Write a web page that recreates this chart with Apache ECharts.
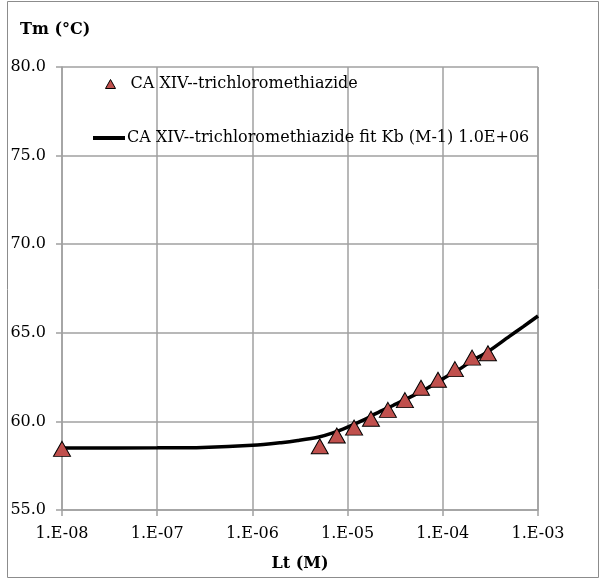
<!DOCTYPE html>
<html>
<head>
<meta charset="utf-8">
<script src="https://cdn.jsdelivr.net/npm/echarts@6/dist/echarts.min.js"></script>
<style>
html,body{margin:0;padding:0;background:#fff;}
#chart{width:600px;height:579px;}
</style>
</head>
<body>
<div id="chart"></div>
<script>
// Data
const seriesNames = ['CA XIV--trichloromethiazide', 'CA XIV--trichloromethiazide fit Kb (M-1) 1.0E+06'];
const obsLt = [1.0e-8, 5.1e-6, 7.7e-6, 1.17e-5, 1.76e-5, 2.65e-5, 4.0e-5, 5.9e-5, 8.9e-5, 1.34e-4, 2.03e-4, 2.98e-4];
const obsTm = [58.45, 58.6, 59.2, 59.65, 60.15, 60.65, 61.2, 61.9, 62.35, 62.95, 63.6, 63.85];
const fitLt = [1e-8, 1e-7, 3e-7, 1e-6, 2e-6, 3e-6, 5e-6, 7e-6, 1e-5, 1.5e-5, 2e-5, 3e-5, 5e-5, 7e-5, 1e-4, 1.5e-4, 2e-4, 3e-4, 5e-4, 7e-4, 1e-3];
const fitTm = [58.50, 58.51, 58.53, 58.65, 58.80, 58.92, 59.12, 59.35, 59.68, 60.10, 60.45, 60.90, 61.48, 61.90, 62.40, 62.95, 63.40, 63.95, 64.80, 65.35, 65.95];
const xTicks = ['1.E-08', '1.E-07', '1.E-06', '1.E-05', '1.E-04', '1.E-03'];
const yTicks = ['55.0', '60.0', '65.0', '70.0', '75.0', '80.0'];

const FONT = 'DejaVu Serif';
const FS = 16;
const chart = echarts.init(document.getElementById('chart'), null, {renderer: 'canvas'});
const gridColor = '#a0a0a0';

chart.setOption({
  animation: false,
  backgroundColor: '#ffffff',
  textStyle: {fontFamily: FONT},
  graphic: [{
    type: 'rect', shape: {x: 7.5, y: 1.5, width: 591, height: 576},
    style: {fill: 'none', stroke: '#8c8c8c', lineWidth: 1}, silent: true, z: -1
  }],
  title: [{
    text: 'Tm (°C)', left: 15, top: 17,
    textStyle: {fontFamily: FONT, fontSize: FS, fontWeight: 'bold', color: '#000'}
  }],
  grid: {left: 62, right: 62, top: 67, bottom: 69, containLabel: false},
  legend: [{
    data: [{name: seriesNames[0], icon: 'triangle'}],
    left: 100, top: 71, itemWidth: 10, itemHeight: 9, itemGap: 0,
    textStyle: {fontFamily: FONT, fontSize: FS, color: '#000', padding: [0, 0, 0, 10]},
    itemStyle: {color: '#C0504D', borderColor: '#000', borderWidth: 1}
  }, {
    data: [{name: seriesNames[1], icon: 'rect'}],
    left: 88, top: 125, itemWidth: 32, itemHeight: 4, itemGap: 0,
    textStyle: {fontFamily: FONT, fontSize: FS, color: '#000', padding: [0, 0, 0, -3]},
    itemStyle: {color: '#000', borderWidth: 0}
  }],
  xAxis: {
    type: 'log', logBase: 10, min: 1e-8, max: 1e-3,
    name: 'Lt (M)', nameLocation: 'middle', nameGap: 46,
    nameTextStyle: {fontFamily: FONT, fontSize: FS, fontWeight: 'bold', color: '#000'},
    axisLine: {lineStyle: {color: gridColor, width: 1.5}},
    axisTick: {show: true, length: 6, lineStyle: {color: gridColor, width: 1.5}},
    splitLine: {show: true, lineStyle: {color: gridColor, width: 1.5}},
    minorTick: {show: false},
    axisLabel: {
      fontFamily: FONT, fontSize: FS, color: '#000', margin: 16,
      formatter: function (v) {
        const e = Math.round(Math.log10(v));
        return xTicks[e + 8] !== undefined ? xTicks[e + 8] : '';
      }
    }
  },
  yAxis: {
    type: 'value', min: 55, max: 80, interval: 5,
    axisLine: {show: true, lineStyle: {color: gridColor, width: 1.5}},
    axisTick: {show: true, length: 6, lineStyle: {color: gridColor, width: 1.5}},
    splitLine: {show: true, lineStyle: {color: gridColor, width: 1.5}},
    axisLabel: {
      fontFamily: FONT, fontSize: FS, color: '#000', margin: 16,
      formatter: function (v) {
        const i = Math.round((v - 55) / 5);
        return yTicks[i] !== undefined ? yTicks[i] : '';
      }
    }
  },
  series: [{
    name: seriesNames[1], type: 'line', smooth: 0.3,
    data: fitLt.map((x, i) => [x, fitTm[i]]),
    showSymbol: false, symbol: 'none',
    lineStyle: {color: '#000', width: 3.5},
    itemStyle: {color: '#000'}, z: 2
  }, {
    name: seriesNames[0], type: 'scatter',
    data: obsLt.map((x, i) => [x, obsTm[i]]),
    symbol: 'triangle', symbolSize: [17, 15],
    itemStyle: {color: '#C0504D', borderColor: '#000', borderWidth: 1, opacity: 1}, z: 3
  }]
});
</script>
</body>
</html>
